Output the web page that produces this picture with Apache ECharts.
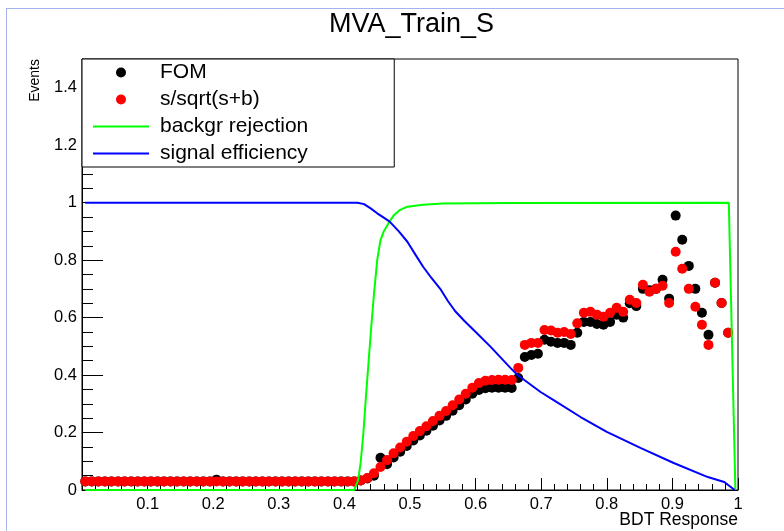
<!DOCTYPE html>
<html>
<head>
<meta charset="utf-8">
<script src="https://cdn.jsdelivr.net/npm/echarts@6/dist/echarts.min.js"></script>
<style>
  html, body { margin: 0; padding: 0; background: #fff; }
  #chart { width: 784px; height: 531px; }
</style>
</head>
<body>
<div id="chart"></div>
<script>
// BDT response binning: 99 filled bins of width 0.01 starting at 0
const binLow = 0;
const binWidth = 0.01;

// Figure of merit per bin
const fomValues = [
  0.03, 0.03, 0.03, 0.03, 0.03, 0.03, 0.03, 0.03, 0.03, 0.03,
  0.03, 0.03, 0.03, 0.03, 0.03, 0.03, 0.03, 0.03, 0.03, 0.03,
  0.036, 0.03, 0.03, 0.03, 0.03, 0.03, 0.03, 0.03, 0.03, 0.03,
  0.03, 0.03, 0.03, 0.03, 0.03, 0.03, 0.03, 0.03, 0.03, 0.03,
  0.03, 0.03, 0.033, 0.04, 0.05, 0.112, 0.09, 0.113, 0.133, 0.153,
  0.172, 0.19, 0.206, 0.224, 0.242, 0.258, 0.276, 0.295, 0.315, 0.335,
  0.348, 0.354, 0.356, 0.356, 0.356, 0.355, 0.39, 0.463, 0.47, 0.474,
  0.523, 0.516, 0.512, 0.512, 0.505, 0.547, 0.585, 0.585, 0.578, 0.575,
  0.585, 0.61, 0.6, 0.65, 0.64, 0.70, 0.695, 0.70, 0.732, 0.666,
  0.955, 0.871, 0.78, 0.70, 0.617, 0.54, 0.721, 0.651, 0.547
];

// s/sqrt(s+b) per bin
const significanceValues = [
  0.03, 0.03, 0.03, 0.03, 0.03, 0.03, 0.03, 0.03, 0.03, 0.03,
  0.03, 0.03, 0.03, 0.03, 0.03, 0.03, 0.03, 0.03, 0.03, 0.03,
  0.03, 0.03, 0.03, 0.03, 0.03, 0.03, 0.03, 0.03, 0.03, 0.03,
  0.03, 0.03, 0.03, 0.03, 0.03, 0.03, 0.03, 0.03, 0.03, 0.03,
  0.03, 0.03, 0.033, 0.042, 0.058, 0.08, 0.104, 0.128, 0.148, 0.168,
  0.188, 0.205, 0.222, 0.24, 0.258, 0.275, 0.295, 0.315, 0.335, 0.356,
  0.372, 0.38, 0.383, 0.384, 0.384, 0.383, 0.425, 0.505, 0.512, 0.512,
  0.557, 0.555, 0.547, 0.55, 0.543, 0.58, 0.617, 0.62, 0.61, 0.603,
  0.617, 0.634, 0.62, 0.662, 0.651, 0.714, 0.69, 0.70, 0.711, 0.651,
  0.829, 0.77, 0.70, 0.638, 0.575, 0.505, 0.721, 0.651, 0.547
];

// Background rejection vs. cut value
const bkgRejX = [0.005, 0.415, 0.421, 0.425, 0.429, 0.433, 0.437, 0.441, 0.445, 0.45,
                 0.455, 0.46, 0.469, 0.475, 0.485, 0.496, 0.52, 0.55, 0.65, 0.986, 0.996];
const bkgRejY = [0, 0, 0.035, 0.1, 0.2, 0.33, 0.45, 0.57, 0.68, 0.8,
                 0.87, 0.9, 0.935, 0.955, 0.975, 0.986, 0.993, 0.997, 0.999, 1.0, 0];

// Signal efficiency vs. cut value
const sigEffX = [0.005, 0.42, 0.43, 0.44, 0.45, 0.46, 0.469, 0.483, 0.496, 0.508,
                 0.52, 0.533, 0.547, 0.558, 0.569, 0.583, 0.597, 0.623, 0.653, 0.664,
                 0.699, 0.719, 0.76, 0.80, 0.852, 0.902, 0.954, 0.979, 0.995];
const sigEffY = [1, 1, 0.995, 0.98, 0.963, 0.948, 0.934, 0.9, 0.864, 0.82,
                 0.777, 0.737, 0.697, 0.657, 0.622, 0.588, 0.557, 0.498, 0.425, 0.40,
                 0.341, 0.313, 0.254, 0.202, 0.146, 0.094, 0.045, 0.028, 0];

const FONT = "'Liberation Sans', Arial, Helvetica, sans-serif";
const LINE_ICON = 'path://M0,0L56,0L56,2L0,2Z';

function binned(values) {
  return values.map((v, i) => [binLow + (i + 0.5) * binWidth, v]);
}
function paired(xs, ys) {
  return xs.map((x, i) => [x, ys[i]]);
}

const chart = echarts.init(document.getElementById('chart'), null, { renderer: 'canvas' });

chart.setOption({
  animation: false,
  backgroundColor: '#ffffff',
  title: {
    text: 'MVA_Train_S',
    left: 329,
    top: 11,
    padding: 0,
    textStyle: { fontFamily: FONT, fontSize: 27, fontWeight: 'normal', color: '#000' }
  },
  graphic: [{
    type: 'rect',
    silent: true,
    z: 0,
    shape: { x: 6.5, y: 8.5, width: 820, height: 560 },
    style: { fill: 'none', stroke: '#4466dd', lineWidth: 1, lineDash: [1, 1] }
  }],
  legend: {
    orient: 'vertical',
    left: 82,
    top: 59,
    z: 10,
    selectedMode: false,
    backgroundColor: '#ffffff',
    borderColor: '#000',
    borderWidth: 1,
    borderRadius: 0,
    padding: [0, 86, 0, 11],
    itemGap: 0,
    itemWidth: 56,
    itemHeight: 10,
    symbolKeepAspect: true,
    textStyle: { fontFamily: FONT, fontSize: 21, color: '#000', lineHeight: 27, padding: [0, 0, 0, 6] },
    data: [
      { name: 'FOM', icon: 'circle' },
      { name: 's/sqrt(s+b)', icon: 'circle' },
      { name: 'backgr rejection', icon: LINE_ICON },
      { name: 'signal efficiency', icon: LINE_ICON }
    ]
  },
  grid: {
    left: 82, right: 46, top: 59, bottom: 41,
    show: true,
    borderColor: '#000',
    borderWidth: 1,
    backgroundColor: 'transparent',
    outerBoundsMode: 'none'
  },
  xAxis: {
    type: 'value',
    min: 0, max: 1, interval: 0.1,
    name: 'BDT Response',
    nameLocation: 'end',
    nameGap: 0,
    nameMoveOverlap: false,
    nameTextStyle: { fontFamily: FONT, fontSize: 17.5, color: '#000', align: 'right', verticalAlign: 'top', padding: [21, 0, 0, 0] },
    axisLine: { show: true, onZero: false, lineStyle: { color: '#000', width: 1 } },
    axisTick: { show: true, inside: true, length: 12, lineStyle: { color: '#000', width: 1 } },
    minorTick: { show: true, splitNumber: 5, length: 6, lineStyle: { color: '#000', width: 1 } },
    splitLine: { show: false },
    minorSplitLine: { show: false },
    axisLabel: {
      fontFamily: FONT, fontSize: 16.5, color: '#000', margin: 6,
      showMinLabel: true, showMaxLabel: true,
      formatter: v => (v === 0 ? '' : String(+v.toFixed(1)))
    }
  },
  yAxis: {
    type: 'value',
    min: 0, max: 1.5, interval: 0.2,
    name: 'Events',
    nameLocation: 'end',
    nameRotate: 90,
    nameGap: 0,
    nameMoveOverlap: false,
    nameTextStyle: { fontFamily: FONT, fontSize: 14, color: '#000', align: 'right', verticalAlign: 'bottom', padding: [0, 0, 40, 0] },
    axisLine: { show: true, onZero: false, lineStyle: { color: '#000', width: 1 } },
    axisTick: { show: true, inside: true, length: 21, lineStyle: { color: '#000', width: 1 } },
    minorTick: { show: true, splitNumber: 4, length: 11, lineStyle: { color: '#000', width: 1 } },
    splitLine: { show: false },
    minorSplitLine: { show: false },
    axisLabel: {
      fontFamily: FONT, fontSize: 16.5, color: '#000', margin: 5,
      showMinLabel: true, showMaxLabel: false,
      formatter: v => String(+v.toFixed(1))
    }
  },
  series: [
    {
      name: 'FOM',
      type: 'scatter',
      symbol: 'circle',
      symbolSize: 10,
      itemStyle: { color: '#000000', opacity: 1 },
      z: 2,
      silent: true,
      data: binned(fomValues)
    },
    {
      name: 's/sqrt(s+b)',
      type: 'scatter',
      symbol: 'circle',
      symbolSize: 10,
      itemStyle: { color: '#ff0000', opacity: 1 },
      z: 3,
      silent: true,
      data: binned(significanceValues)
    },
    {
      name: 'backgr rejection',
      type: 'line',
      showSymbol: false,
      symbol: 'none',
      itemStyle: { color: '#00ff00' },
      lineStyle: { color: '#00ff00', width: 2 },
      z: 4,
      silent: true,
      data: paired(bkgRejX, bkgRejY)
    },
    {
      name: 'signal efficiency',
      type: 'line',
      showSymbol: false,
      symbol: 'none',
      itemStyle: { color: '#0000ff' },
      lineStyle: { color: '#0000ff', width: 2 },
      z: 5,
      silent: true,
      data: paired(sigEffX, sigEffY)
    }
  ]
});
</script>
</body>
</html>
